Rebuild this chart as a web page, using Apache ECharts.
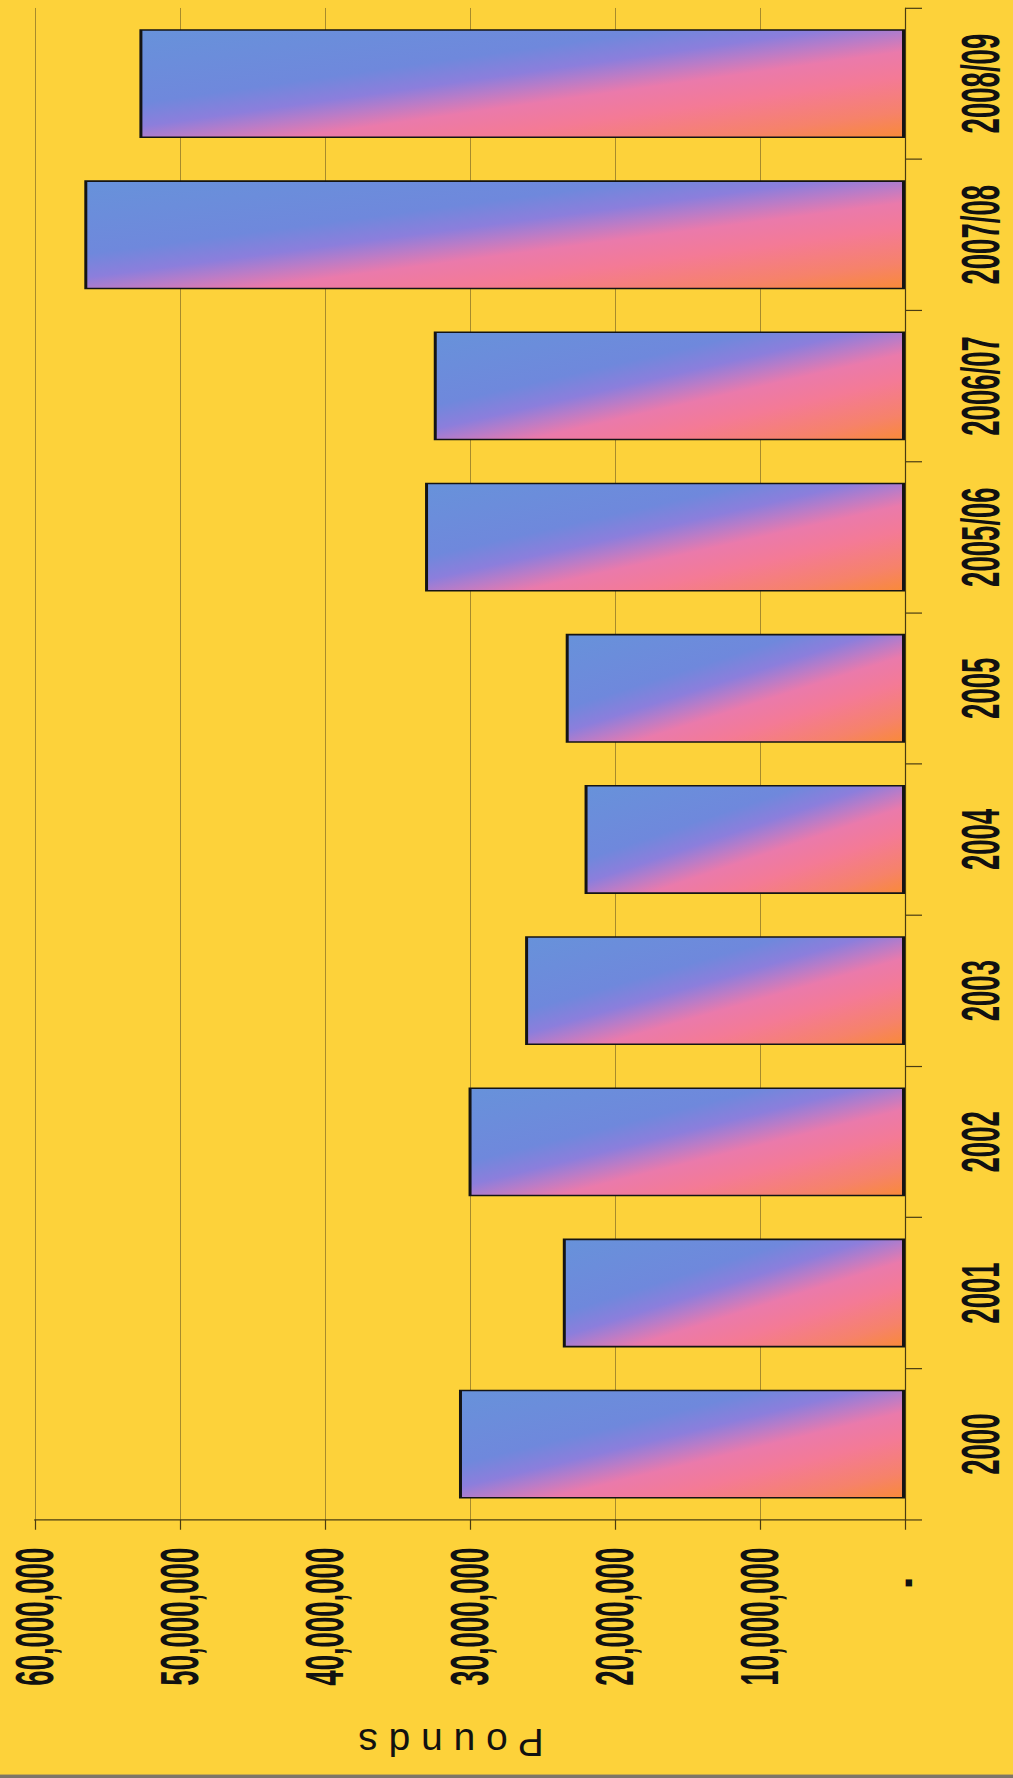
<!DOCTYPE html>
<html><head><meta charset="utf-8">
<script src="https://cdn.jsdelivr.net/npm/echarts@6/dist/echarts.min.js"></script>
<style>
html,body{margin:0;padding:0;background:#7d7668;overflow:hidden;width:1013px;height:1778px;}
#wrap{position:relative;width:1013px;height:1775px;overflow:hidden;}
#c{position:absolute;left:0;top:0;width:1013px;transform-origin:0 0;}
</style>
</head><body><div id="wrap"><div id="c"></div></div>
<script>
const categories = ['2000','2001','2002','2003','2004','2005','2005/06','2006/07','2007/08','2008/09'];
const pounds = [30760000, 23600000, 30100000, 26200000, 22100000, 23400000, 33100000, 32500000, 56600000, 52800000];
const axisMin = 0;
const axisMax = 60000000;
const axisStep = 10000000;
const axisTitle = 'P o u n d s';

// Page is drawn tall and squeezed vertically so that the rotated labels get a condensed look
const K = 0.52;
const PAGE_H = 1775;
const el = document.getElementById('c');
el.style.height = (PAGE_H / K) + 'px';
el.style.transform = 'scaleY(' + K + ')';

const FONT = '"Liberation Sans", Arial, sans-serif';

// SVG gradients use the bar's bounding box: isolines run from bottom-left to top-right corner
const barGradient = {
  type: 'linear', x: 0, y: 0, x2: 1, y2: 1, global: false,
  colorStops: [
    { offset: 0, color: '#6792da' },
    { offset: 0.34, color: '#6f88dc' },
    { offset: 0.45, color: '#8c7edc' },
    { offset: 0.52, color: '#b87cc8' },
    { offset: 0.6, color: '#ea7aab' },
    { offset: 0.72, color: '#f47a96' },
    { offset: 0.88, color: '#f6826a' },
    { offset: 1, color: '#f98a38' }
  ]
};

const chart = echarts.init(el, null, { renderer: 'svg' });
chart.setOption({
  backgroundColor: '#fdd23a',
  animation: false,
  grid: { left: 35, right: 108, top: 8 / K, bottom: 255 / K, outerBoundsMode: 'none', containLabel: false },
  xAxis: {
    type: 'value', inverse: true, position: 'bottom',
    min: axisMin, max: axisMax, interval: axisStep,
    axisLine: { show: true, lineStyle: { color: '#4a3c12', width: 1.2 / K } },
    axisTick: { show: true, length: 10 / K, lineStyle: { color: '#4a3c12', width: 1.2 } },
    splitLine: { show: true, lineStyle: { color: '#8c7426', width: 1 } },
    axisLabel: {
      rotate: 90, margin: 28 / K, fontFamily: FONT, fontWeight: 'bold', fontSize: 53, color: '#111',
      formatter: v => v === 0 ? '-\u00a0\u00a0\u00a0\u00a0' : v.toLocaleString('en-US')
    }
  },
  yAxis: {
    type: 'category', position: 'right', data: categories,
    axisLine: { show: true, lineStyle: { color: '#4a3c12', width: 1.2 } },
    axisTick: { show: true, length: 17, alignWithLabel: false, lineStyle: { color: '#4a3c12', width: 1.2 / K } },
    splitLine: { show: false },
    axisLabel: { rotate: 90, margin: 49, fontFamily: FONT, fontWeight: 'bold', fontSize: 53, color: '#111', interval: 0 }
  },
  graphic: [{
    type: 'text',
    x: 451, y: 1742 / K,
    rotation: Math.PI,
    scaleY: 1 / K,
    style: { text: axisTitle, font: '39px ' + FONT, fill: '#111', textAlign: 'center', textVerticalAlign: 'middle' }
  }],
  series: [{
    type: 'bar',
    barCategoryGap: '28%',
    data: pounds,
    itemStyle: { color: barGradient, borderColor: '#141414', borderWidth: 3 }
  }]
});
</script></body></html>
